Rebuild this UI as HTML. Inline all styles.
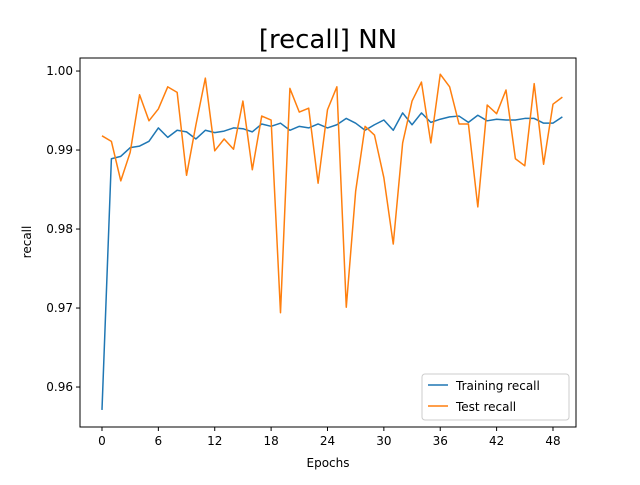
<!DOCTYPE html>
<html><head><meta charset="utf-8"><style>
body{margin:0;background:#fff}
svg text{font-family:"DejaVu Sans","Liberation Sans",sans-serif;fill:#000}
</style></head><body>
<svg id="chart" width="640" height="480" viewBox="0 0 640 480">
<rect width="640" height="480" fill="#fff"/>
<text x="328" y="48" font-size="26" text-anchor="middle">[recall] NN</text>
<g id="plot"></g>
<rect x="80" y="58" width="496" height="369" fill="none" stroke="#000" stroke-width="1"/>
<text x="328" y="467" font-size="12" text-anchor="middle">Epochs</text>
<text transform="translate(31,242) rotate(-90)" font-size="12" text-anchor="middle">recall</text>
<g>
<rect x="422" y="374" width="147" height="46" rx="3" fill="#fff" stroke="#ccc"/>
<line x1="428" y1="385" x2="448" y2="385" stroke="#1f77b4" stroke-width="1.5"/>
<text x="456" y="390" font-size="12">Training recall</text>
<line x1="428" y1="406" x2="448" y2="406" stroke="#ff7f0e" stroke-width="1.5"/>
<text x="456" y="411" font-size="12">Test recall</text>
</g>
</svg>
<script>
const training = [0.9571,0.9889,0.9892,0.9903,0.9905,0.9911,0.9928,0.9916,0.9925,0.9923,0.9914,0.9925,0.9922,0.9924,0.9928,0.9927,0.9923,0.9933,0.9930,0.9934,0.9925,0.9930,0.9928,0.9933,0.9928,0.9932,0.9940,0.9934,0.9925,0.9932,0.9938,0.9925,0.9947,0.9932,0.9947,0.9935,0.9939,0.9942,0.9943,0.9935,0.9944,0.9937,0.9939,0.9938,0.9938,0.9940,0.9940,0.9934,0.9934,0.9942];
const test = [0.9918,0.9911,0.9861,0.9897,0.9970,0.9937,0.9952,0.9980,0.9973,0.9868,0.9932,0.9991,0.9899,0.9914,0.9901,0.9962,0.9875,0.9943,0.9938,0.9694,0.9978,0.9948,0.9953,0.9858,0.9951,0.9980,0.9701,0.9848,0.9930,0.9919,0.9865,0.9781,0.9909,0.9962,0.9986,0.9909,0.9996,0.9980,0.9933,0.9933,0.9828,0.9957,0.9946,0.9976,0.9889,0.9880,0.9984,0.9882,0.9958,0.9967];
const xTicks = [0,6,12,18,24,30,36,42,48];
const yTicks = [0.96,0.97,0.98,0.99,1.00];
const yTickLabels = ["0.96","0.97","0.98","0.99","1.00"];
const NS="http://www.w3.org/2000/svg";
const X0=80,X1=576,Y0=58,Y1=427;
const xMin=-2.34,xMax=50.45,yMin=0.95494,yMax=1.00165;
function sx(v){return X0+(v-xMin)/(xMax-xMin)*(X1-X0);}
function sy(v){return Y1-(v-yMin)/(yMax-yMin)*(Y1-Y0);}
const g=document.getElementById('plot');
function mk(t,a){const e=document.createElementNS(NS,t);for(const k in a)e.setAttribute(k,a[k]);return e;}
xTicks.forEach(t=>{
  const l=mk('line',{x1:sx(t),x2:sx(t),y1:Y1,y2:Y1+4,stroke:'#000'});
  
  
  g.appendChild(l);
  const tx=mk('text',{x:sx(t),y:Y1+18,'font-size':12,'text-anchor':'middle'});
  
  
  tx.textContent=t;g.appendChild(tx);
});
yTicks.forEach((t,i)=>{
  const l=mk('line',{x1:X0-4,x2:X0,y1:sy(t),y2:sy(t),stroke:'#000'});
  
  
  g.appendChild(l);
  const tx=mk('text',{x:X0-7,y:sy(t)+4,'font-size':12,'text-anchor':'end'});
  
  
  tx.textContent=yTickLabels[i];g.appendChild(tx);
});
function line(arr,color,name){
  const p=mk('polyline',{points:arr.map((v,i)=>sx(i)+','+sy(v)).join(' '),fill:'none',stroke:color,'stroke-width':1.5,'stroke-linejoin':'round'});
  
  
  g.appendChild(p);
}
line(training,'#1f77b4','training-recall-line');
line(test,'#ff7f0e','test-recall-line');
</script>
</body></html>
